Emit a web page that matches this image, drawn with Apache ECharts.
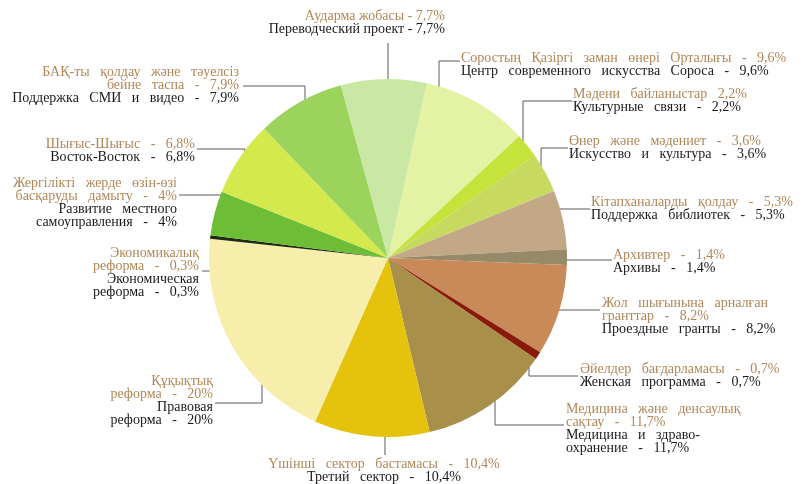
<!DOCTYPE html>
<html lang="kk">
<head>
    <meta charset="UTF-8">
    <title>Pie</title>
    <script type="text/javascript" src="https://cdn.jsdelivr.net/npm/echarts@6/dist/echarts.min.js"></script>
    <style>
        html, body { margin: 0; padding: 0; background: #fff; }
    </style>
</head>
<body>
<div id="chartmain" style="width:805px;height:484px"></div>
<script>
    // values in %, clockwise from the Soros slice
    var values = [9.6, 2.2, 3.6, 5.3, 1.4, 8.2, 0.7, 11.7, 10.4, 20, 0.3, 4, 6.8, 7.9, 7.7];

    var kkLabels = [
        'Соростың Қазіргі заман өнері Орталығы - {v}',
        'Мәдени байланыстар {v}',
        'Өнер және мәдениет - {v}',
        'Кітапханаларды қолдау - {v}',
        'Архивтер - {v}',
        'Жол шығынына арналған\nгранттар - {v}',
        'Әйелдер бағдарламасы - {v}',
        'Медицина және денсаулық\nсақтау - {v}',
        'Үшінші сектор бастамасы - {v}',
        'Құқықтық\nреформа - {v}',
        'Экономикалық\nреформа - {v}',
        'Жергілікті жерде өзін-өзі\nбасқаруды дамыту - {v}',
        'Шығыс-Шығыс - {v}',
        'БАҚ-ты қолдау және тәуелсіз\nбейне таспа - {v}',
        'Аударма жобасы - {v}'
    ];

    var ruLabels = [
        'Центр современного искусства Сороса - {v}',
        'Культурные связи - {v}',
        'Искусство и культура - {v}',
        'Поддержка библиотек - {v}',
        'Архивы - {v}',
        'Проездные гранты - {v}',
        'Женская программа - {v}',
        'Медицина и здраво-\nохранение - {v}',
        'Третий сектор - {v}',
        'Правовая\nреформа - {v}',
        'Экономическая\nреформа - {v}',
        'Развитие местного\nсамоуправления - {v}',
        'Восток-Восток - {v}',
        'Поддержка СМИ и видео - {v}',
        'Переводческий проект - {v}'
    ];

    var colors = ['#e3f2a3', '#c6e33c', '#c8d960', '#c3a888', '#978a68', '#c98a5a', '#8a1a08',
        '#a88f4a', '#e5c30c', '#f8eeac', '#1f2b10', '#6dbd36', '#d3e94c', '#9bd35c', '#c9e8a3'];

    // label anchor [x, top, align, word gap] and leader points
    var labelPos = [
        [461, 52, 'left', 3], [573, 88, 'left', 3], [569, 135, 'left', 3], [591, 196, 'left', 3],
        [613, 249, 'left', 3], [602, 297, 'left', 3], [580, 363, 'left', 3], [566, 403, 'left', 3],
        [384, 458, 'center', 3], [213, 375, 'right', 3], [199, 247, 'right', 3], [177, 177, 'right', 3],
        [195, 138, 'right', 3], [239, 66, 'right', 3], [445, 10, 'right', 1]
    ];
    var linePts = [
        [[439, 100], [439, 61], [460, 61]],
        [[523, 158], [523, 101], [572, 101]],
        [[541, 187], [541, 148], [568, 148]],
        [[555, 230], [555, 209], [590, 209]],
        [[558, 260], [585, 260], [612, 260]],
        [[556, 288], [556, 310], [600, 310]],
        [[529, 356], [529, 376], [578, 376]],
        [[495, 396], [495, 425], [564, 425]],
        [[385, 432], [385, 444], [385, 455]],
        [[262, 374], [262, 403], [215, 403]],
        [[221, 241], [221, 271], [202, 271]],
        [[224, 220], [224, 195], [179, 195]],
        [[245, 174], [245, 149], [197, 149]],
        [[305, 115], [305, 86], [243, 86]],
        [[388, 89], [388, 66], [388, 43]]
    ];

    function pct(v) {
        return String(v).replace('.', ',') + '%';
    }
    function spaced(s, n) {
        return s.replace(/ /g, new Array(n + 1).join(' '));
    }

    var data = [];
    for (var i = 0; i < values.length; i++) {
        data.push({
            value: values[i],
            name: ruLabels[i].split(' - ')[0],
            itemStyle: {color: colors[i]}
        });
    }

    var option = {
        animation: false,
        backgroundColor: '#ffffff',
        series: [
            {
                type: 'pie',
                center: [388, 258],
                radius: 179,
                startAngle: 77.5,
                clockwise: true,
                avoidLabelOverlap: false,
                data: data,
                label: {
                    show: true,
                    position: 'outside',
                    formatter: function (p) {
                        var i = p.dataIndex;
                        var g = labelPos[i][3];
                        var k = spaced(kkLabels[i].replace('{v}', pct(values[i])), g);
                        var r = spaced(ruLabels[i].replace('{v}', pct(values[i])), g);
                        return '{k|' + k + '}\n{r|' + r + '}';
                    },
                    rich: {
                        k: {color: '#b08758', fontSize: 14, lineHeight: 13, fontFamily: 'Liberation Serif'},
                        r: {color: '#1a1a1a', fontSize: 14, lineHeight: 13, fontFamily: 'Liberation Serif'}
                    }
                },
                labelLine: {
                    show: true,
                    lineStyle: {color: '#5a5a5a', width: 1}
                },
                labelLayout: function (params) {
                    var p = labelPos[params.dataIndex];
                    return {
                        x: p[0],
                        y: p[1],
                        align: p[2],
                        verticalAlign: 'top',
                        labelLinePoints: linePts[params.dataIndex]
                    };
                },
                emphasis: {disabled: true}
            }
        ]
    };

    var myChart = echarts.init(document.getElementById('chartmain'));
    myChart.setOption(option);
</script>
</body>
</html>
